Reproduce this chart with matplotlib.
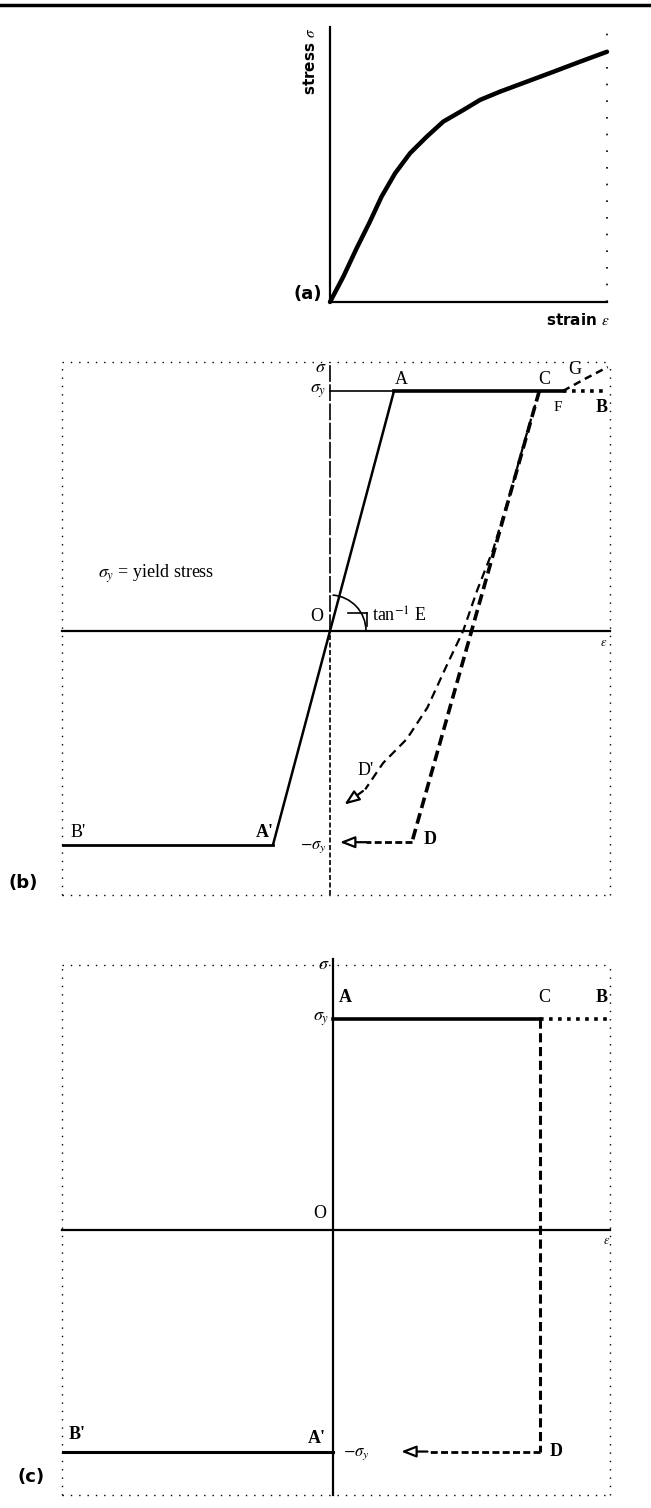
import numpy as np
import matplotlib
matplotlib.use("Agg")
import matplotlib.pyplot as plt
from matplotlib.patches import Arc
from matplotlib.lines import Line2D

plt.rcParams['font.family'] = ['Liberation Serif', 'DejaVu Serif']
plt.rcParams['mathtext.fontset'] = 'stix'

W, H = 651, 1508

# (a) stress-strain curve, normalised strain / stress
strain_a = [0.0, 0.048, 0.096, 0.144, 0.186, 0.235, 0.289, 0.349, 0.409, 0.481,
            0.542, 0.614, 0.710, 0.806, 0.903, 1.0]
stress_a = [0.0, 0.092, 0.195, 0.292, 0.383, 0.468, 0.541, 0.601, 0.656, 0.698,
            0.735, 0.765, 0.801, 0.837, 0.874, 0.910]

# (b) elastic-perfectly plastic, strain in units of yield strain, stress in units of sigma_y
sig_y = 1.0
sig_y_neg = -0.89
eps_A = 1.0
eps_Aneg = -0.89
eps_C = 3.27
eps_F = 3.64
eps_B = 4.34
eps_D = 1.28
sig_D = -0.88
eps_arrow_b = 0.11
G_eps = [3.64, 3.98, 4.34]
G_sig = [1.0, 1.05, 1.10]
# unloading curve C -> D' (Bauschinger)
cd_eps = [3.27, 3.05, 2.81, 2.55, 2.30, 2.08, 1.83, 1.52, 1.20, 0.83, 0.55, 0.19]
cd_sig = [1.0, 0.80, 0.57, 0.34, 0.17, 0.0, -0.14, -0.32, -0.45, -0.55, -0.66, -0.73]

# (c) rigid-perfectly plastic
sig_y_c = 1.0
sig_yneg_c = -1.05
eps_C_c = 3.23
eps_B_c = 4.30
eps_arrow_c = 1.02


def box(x0, y0, x1, y1):
    return [x0 / W, 1 - y1 / H, (x1 - x0) / W, (y1 - y0) / H]


fig = plt.figure(figsize=(6.51, 15.08), dpi=100)
fig.add_artist(Line2D([0, 1], [1 - 5 / H, 1 - 5 / H], color='black', lw=2.5))

#%% (a)
ax = fig.add_axes(box(330, 27, 607, 302))
ax.set_xlim(0, 1)
ax.set_ylim(0, 1)
ax.axis('off')
ax.plot([0, 0], [0, 1], color='black', lw=1.6, clip_on=False)
ax.plot([0, 1], [0, 0], color='black', lw=1.6, clip_on=False)
ax.plot([1, 1], [0, 1.01], color='black', lw=1.2, ls=(0, (1, 9)), clip_on=False)
ax.plot(strain_a, stress_a, color='black', lw=3.2, solid_capstyle='round',
        solid_joinstyle='round', clip_on=False)
ax.text(-0.045, 1.0, 'stress $\\sigma$', rotation=90, ha='right', va='top',
        fontsize=11, fontweight='bold', family=['DejaVu Sans'])
ax.text(1.01, -0.035, 'strain $\\varepsilon$', ha='right', va='top',
        fontsize=11, fontweight='bold', family=['DejaVu Sans'])
ax.text(-0.08, 0.03, '(a)', ha='center', va='center', fontsize=13, fontweight='bold',
        family=['DejaVu Sans'])

#%% (b)
bx = fig.add_axes(box(62, 362, 610, 895))
xl = (-268 / 64, 280 / 64)
yl = (-264 / 240, 269 / 240)
bx.set_xlim(*xl)
bx.set_ylim(*yl)
bx.axis('off')
dot = dict(color='black', lw=1.0, ls=(0, (1, 5)), clip_on=False)
bx.plot([xl[0], xl[1]], [yl[1], yl[1]], **dot)
bx.plot([xl[0], xl[1]], [yl[0], yl[0]], **dot)
bx.plot([xl[0], xl[0]], [yl[0], yl[1]], **dot)
bx.plot([xl[1], xl[1]], [yl[0], yl[1]], **dot)
# axes
bx.plot([xl[0], xl[1]], [0, 0], color='black', lw=1.6, clip_on=False)
bx.plot([0, 0], [0, yl[1]], color='black', lw=1.2, ls=(0, (10, 1.5)), clip_on=False)
bx.plot([0, 0], [yl[0], 0], color='black', lw=1.2, ls=(0, (3, 1.5)), clip_on=False)
# loading path
bx.plot([0, eps_A], [sig_y, sig_y], color='black', lw=1.2)
bx.plot([eps_Aneg, eps_A], [sig_y_neg, sig_y], color='black', lw=1.8)
bx.plot([eps_A, eps_F], [sig_y, sig_y], color='black', lw=2.6)
bx.plot([eps_F, eps_B], [sig_y, sig_y], color='black', lw=2.6, ls=(0, (1, 1.5)))
bx.plot(G_eps, G_sig, color='black', lw=1.8, ls=(0, (3, 2)), clip_on=False)
bx.plot([xl[0], eps_Aneg], [sig_y_neg, sig_y_neg], color='black', lw=2.0)
# unloading
bx.plot([eps_C, eps_D], [sig_y, sig_D], color='black', lw=2.6, ls=(0, (3, 1.5)))
bx.plot(cd_eps[:-1], cd_sig[:-1], color='black', lw=1.6, ls=(0, (4, 2.5)))
bx.annotate('', xy=(cd_eps[-1], cd_sig[-1]), xytext=(cd_eps[-2], cd_sig[-2]),
            arrowprops=dict(arrowstyle='-|>,head_length=0.9,head_width=0.35',
                            fc='white', ec='black', lw=1.6))
bx.plot([eps_D, eps_arrow_b + 0.45], [sig_D, sig_D], color='black', lw=2.0, ls=(0, (2.5, 1.2)))
bx.annotate('', xy=(eps_arrow_b, sig_D), xytext=(eps_arrow_b + 0.5, sig_D),
            arrowprops=dict(arrowstyle='-|>,head_length=0.9,head_width=0.35',
                            fc='white', ec='black', lw=1.6))
# angle
bx.add_patch(Arc((0, 0), 72 / 64, 72 / 240, theta1=0, theta2=75, color='black', lw=1.2))
bx.plot([0.28, 0.58], [0.075, 0.075], color='black', lw=1.2)
bx.plot([0.58, 0.58], [0.075, 0.02], color='black', lw=1.2)

fs = 13
bx.text(-0.05, 1.10, '$\\sigma$', ha='right', va='center', fontsize=fs, fontweight='bold')
bx.text(-0.05, sig_y, '$\\sigma_y$', ha='right', va='center', fontsize=fs, fontweight='bold')
bx.text(1.12, 1.05, 'A', ha='center', va='center', fontsize=fs)
bx.text(3.34, 1.05, 'C', ha='center', va='center', fontsize=fs)
bx.text(3.83, 1.09, 'G', ha='center', va='center', fontsize=fs)
bx.text(3.56, 0.93, 'F', ha='center', va='center', fontsize=fs - 2)
bx.text(4.25, 0.93, 'B', ha='center', va='center', fontsize=fs, fontweight='bold')
bx.text(-0.1, 0.06, 'O', ha='right', va='center', fontsize=fs)
bx.text(0.66, 0.06, 'tan$^{-1}$ E', ha='left', va='center', fontsize=fs)
bx.text(4.28, -0.05, '$\\varepsilon$', ha='center', va='center', fontsize=9)
bx.text(-3.63, 0.24, '$\\sigma_y$ = yield stress', ha='left', va='center', fontsize=fs)
bx.text(0.56, -0.58, "D'", ha='center', va='center', fontsize=fs)
bx.text(1.57, sig_D + 0.01, 'D', ha='center', va='center', fontsize=fs, fontweight='bold')
bx.text(-3.94, -0.84, "B'", ha='center', va='center', fontsize=fs)
bx.text(-1.02, -0.84, "A'", ha='center', va='center', fontsize=fs, fontweight='bold')
bx.text(-0.05, sig_y_neg - 0.01, '$-\\sigma_y$', ha='right', va='center', fontsize=fs - 1,
        fontweight='bold')
bx.text(-4.8, -1.05, '(b)', ha='center', va='center', fontsize=13, fontweight='bold',
        family=['DejaVu Sans'])

#%% (c)
cx = fig.add_axes(box(62, 965, 610, 1495))
xl = (-271 / 64, 277 / 64)
yl = (-265 / 211, 265 / 211)
cx.set_xlim(*xl)
cx.set_ylim(*yl)
cx.axis('off')
cx.plot([xl[0], xl[1]], [yl[1], yl[1]], **dot)
cx.plot([xl[0], xl[1]], [yl[0], yl[0]], **dot)
cx.plot([xl[0], xl[0]], [yl[0], yl[1]], **dot)
cx.plot([xl[1], xl[1]], [yl[0], yl[1]], **dot)
cx.plot([xl[0], xl[1]], [0, 0], color='black', lw=1.6, clip_on=False)
cx.plot([0, 0], [yl[0], yl[1] + 0.03], color='black', lw=1.6, clip_on=False)
cx.plot([0, eps_C_c], [sig_y_c, sig_y_c], color='black', lw=2.6)
cx.plot([eps_C_c, eps_B_c], [sig_y_c, sig_y_c], color='black', lw=2.6, ls=(0, (1, 1.5)))
cx.plot([xl[0], 0], [sig_yneg_c, sig_yneg_c], color='black', lw=2.2)
cx.plot([eps_C_c, eps_C_c], [sig_y_c, sig_yneg_c], color='black', lw=2.2, ls=(0, (3, 1.5)))
cx.plot([eps_C_c, eps_arrow_c + 0.45], [sig_yneg_c, sig_yneg_c], color='black', lw=2.0,
        ls=(0, (2.5, 1.2)))
cx.annotate('', xy=(eps_arrow_c, sig_yneg_c), xytext=(eps_arrow_c + 0.5, sig_yneg_c),
            arrowprops=dict(arrowstyle='-|>,head_length=0.9,head_width=0.35',
                            fc='white', ec='black', lw=1.6))
cx.text(-0.05, 1.26, '$\\sigma$', ha='right', va='center', fontsize=fs, fontweight='bold')
cx.text(-0.05, sig_y_c, '$\\sigma_y$', ha='right', va='center', fontsize=fs, fontweight='bold')
cx.text(0.2, 1.1, 'A', ha='center', va='center', fontsize=fs, fontweight='bold')
cx.text(3.3, 1.1, 'C', ha='center', va='center', fontsize=fs)
cx.text(4.2, 1.1, 'B', ha='center', va='center', fontsize=fs, fontweight='bold')
cx.text(-0.1, 0.08, 'O', ha='right', va='center', fontsize=fs)
cx.text(4.28, -0.05, '$\\varepsilon$', ha='center', va='center', fontsize=9)
cx.text(-3.99, -0.97, "B'", ha='center', va='center', fontsize=fs, fontweight='bold')
cx.text(-0.25, -0.99, "A'", ha='center', va='center', fontsize=fs, fontweight='bold')
cx.text(0.15, sig_yneg_c - 0.01, '$-\\sigma_y$', ha='left', va='center', fontsize=fs - 1,
        fontweight='bold')
cx.text(eps_C_c + 0.15, sig_yneg_c, 'D', ha='left', va='center', fontsize=fs, fontweight='bold')
cx.text(-4.72, -1.17, '(c)', ha='center', va='center', fontsize=13, fontweight='bold',
        family=['DejaVu Sans'])

fig.savefig('out.png', dpi=100)
